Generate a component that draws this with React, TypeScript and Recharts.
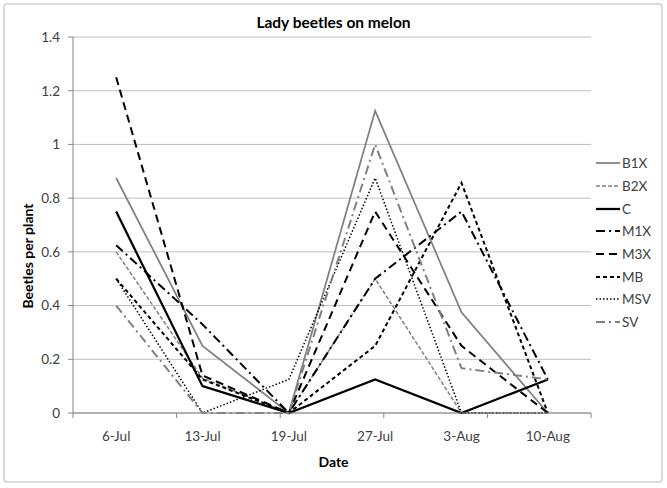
// Lady beetles on melon: eight treatments, beetles per plant over six sampling dates,
// drawn Excel-style (grey/black lines told apart by dash pattern).

import { CartesianGrid, Legend, Line, LineChart, XAxis, YAxis } from "recharts";

const DATES = ["6-Jul", "13-Jul", "19-Jul", "27-Jul", "3-Aug", "10-Aug"];

const B1X = [0.875, 0.25, 0, 1.125, 0.375, 0];
const B2X = [0.6, 0.13, 0, 0.5, 0, 0];
const C = [0.75, 0.1, 0, 0.125, 0, 0.125];
const M1X = [0.625, 0.33, 0, 0.5, 0.75, 0.125];
const M3X = [1.25, 0.14, 0, 0.75, 0.25, 0];
const MB = [0.5, 0.125, 0, 0.25, 0.857, 0];
const MSV = [0.5, 0, 0.125, 0.875, 0, 0];
const SV = [0.4, 0, 0, 1, 0.167, 0.125];

const Y_TICKS = [0, 0.2, 0.4, 0.6, 0.8, 1, 1.2, 1.4];
// category boundaries, where Excel puts its x tick marks
const MARK_TICKS = [0, 1, 2, 3, 4, 5, 6];

const GREY = "#808080";
const BLACK = "#000000";
const AXIS = "#868686";
const FONT = "Lato, 'Liberation Sans', sans-serif";

const SERIES = [
  { key: "B1X", values: B1X, stroke: GREY, width: 1.75, dash: undefined },
  { key: "B2X", values: B2X, stroke: GREY, width: 1.5, dash: "4 2" },
  { key: "C", values: C, stroke: BLACK, width: 2.25, dash: undefined },
  { key: "M1X", values: M1X, stroke: BLACK, width: 2, dash: "9 4 2 4" },
  { key: "M3X", values: M3X, stroke: BLACK, width: 2, dash: "8 5" },
  { key: "MB", values: MB, stroke: BLACK, width: 2, dash: "4 3" },
  { key: "MSV", values: MSV, stroke: BLACK, width: 1.5, dash: "1.5 2" },
  { key: "SV", values: SV, stroke: GREY, width: 2, dash: "9 4 2 4" },
];

const rows = DATES.map((date, i) => {
  const row: Record<string, string | number> = { date };
  SERIES.forEach((s) => { row[s.key] = s.values[i]; });
  return row;
});

function LegendBox() {
  return (
    <div style={{ fontFamily: FONT, fontSize: 13.5, color: "#404040" }}>
      {SERIES.map((s) => (
        <div key={s.key} style={{ display: "flex", alignItems: "center", height: 22.7 }}>
          <svg width={28} height={10}>
            <line x1={2} y1={5} x2={26} y2={5} stroke={s.stroke} strokeWidth={s.width} strokeDasharray={s.dash} />
          </svg>
          <span>{s.key}</span>
        </div>
      ))}
    </div>
  );
}

export default function App() {
  return (
    <div style={{ position: "absolute", left: 0, top: 0, width: 667, height: 488, background: "#fff" }}>
      <div style={{ position: "absolute", left: 3, top: 3, width: 660, height: 480, boxSizing: "border-box",
                    border: "2px solid #d9d9d9", borderRadius: 4 }} />
      <div style={{ position: "absolute", left: 0, top: 12, width: 667, textAlign: "center",
                    fontFamily: FONT, fontWeight: 700, fontSize: 15.5, lineHeight: "20px", color: "#000" }}>
        Lady beetles on melon
      </div>
      <div style={{ position: "absolute", left: -72, top: 246, width: 200, height: 20, lineHeight: "20px",
                    textAlign: "center", transform: "rotate(-90deg)", fontFamily: FONT, fontWeight: 700, fontSize: 14 }}>
        Beetles per plant
      </div>
      <div style={{ position: "absolute", left: 0, top: 452, width: 667, textAlign: "center",
                    fontFamily: FONT, fontWeight: 700, fontSize: 14, lineHeight: "20px" }}>
        Date
      </div>

      <LineChart width={667} height={488} data={rows} margin={{ top: 37, right: 6, left: 0, bottom: 4 }}
                 style={{ position: "absolute", left: 0, top: 0 }}>
        <CartesianGrid xAxisId="cat" vertical={false} stroke="#bfbfbf" />
        {/* tick marks between the dates; sits right on the plot's bottom edge */}
        <XAxis xAxisId={0} type="number" domain={[0, 6]} ticks={MARK_TICKS} allowDataOverflow
               height={1} axisLine={{ stroke: AXIS }} tickSize={5} tickLine={{ stroke: AXIS }}
               tickFormatter={() => ""} />
        <XAxis xAxisId="cat" dataKey="date" scale="band" height={70} tickLine={false} tickSize={7} tickMargin={10}
               axisLine={false} tick={{ fill: "#404040", fontSize: 13.5, fontFamily: FONT }} />
        <YAxis width={73} domain={[0, 1.4]} ticks={Y_TICKS} tickSize={5} tickMargin={8}
               axisLine={{ stroke: AXIS }} tickLine={{ stroke: AXIS }}
               tick={{ fill: "#404040", fontSize: 13.5, fontFamily: FONT }} />
        <Legend layout="vertical" align="right" verticalAlign="top" content={() => <LegendBox />}
                wrapperStyle={{ top: 152, left: 594, width: 70 }} />
        {SERIES.map((s) => (
          <Line key={s.key} xAxisId="cat" type="linear" dataKey={s.key} stroke={s.stroke} strokeWidth={s.width}
                strokeDasharray={s.dash} dot={false} activeDot={false} isAnimationActive={false} />
        ))}
      </LineChart>
    </div>
  );
}
